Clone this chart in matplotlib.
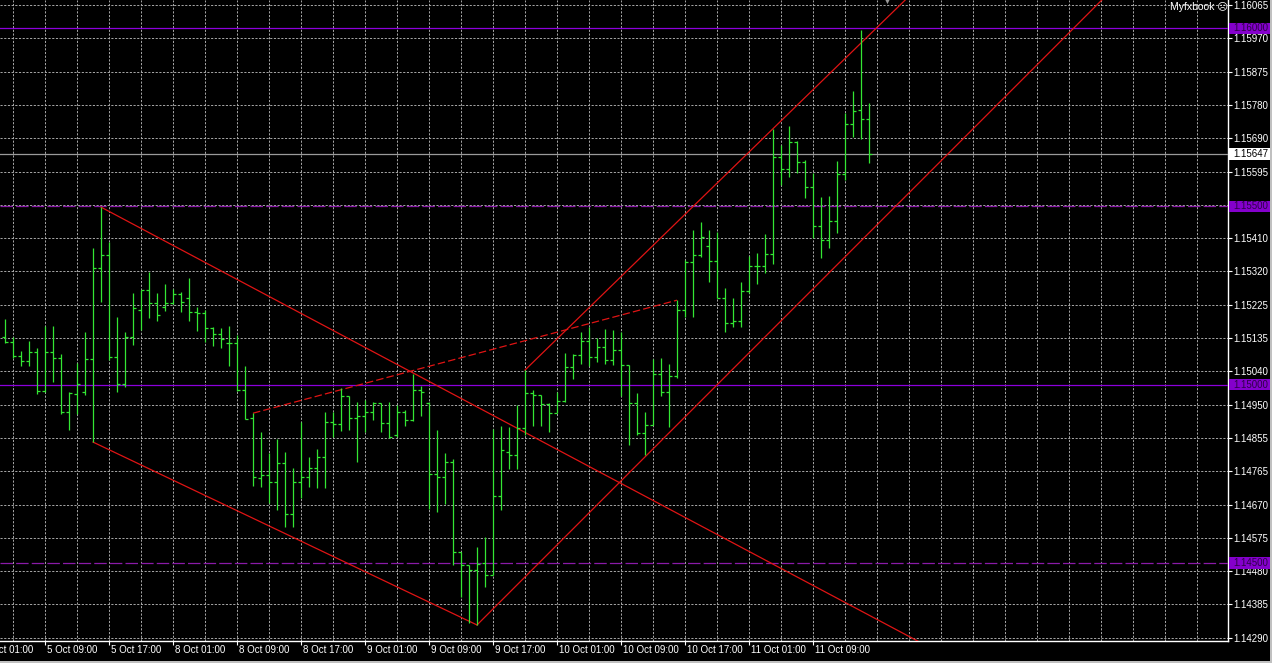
import numpy as np
import matplotlib as mpl
mpl.use('Agg')
import matplotlib.pyplot as plt
import matplotlib.transforms as mtransforms
from matplotlib.patches import Rectangle

plt.rcParams['font.family'] = ['Liberation Sans', 'DejaVu Sans']

# hourly bars, first bar = 5 Oct 04:00 (weekend skipped)
opens = [1.15134, 1.15119, 1.15080, 1.15066, 1.15091, 1.14982, 1.15091, 1.15075, 1.14923, 1.14974,
         1.14979, 1.15072, 1.15327, 1.15364, 1.15077, 1.15002, 1.15134, 1.15209, 1.15265, 1.15229,
         1.15218, 1.15229, 1.15254, 1.15243, 1.15204, 1.15201, 1.15159, 1.15142, 1.15117, 1.15117,
         1.14985, 1.14906, 1.14738, 1.14746, 1.14727, 1.14780, 1.14637, 1.14727, 1.14741, 1.14766,
         1.14797, 1.14895, 1.14889, 1.14968, 1.14906, 1.14912, 1.14923, 1.14948, 1.14892, 1.14859,
         1.14923, 1.14901, 1.14985, 1.14948, 1.14749, 1.14741, 1.14783, 1.14530, 1.14494, 1.14480,
         1.14499, 1.14466, 1.14687, 1.14811, 1.14802, 1.14878, 1.14976, 1.14971, 1.14946, 1.14920,
         1.14954, 1.15049, 1.15083, 1.15122, 1.15077, 1.15105, 1.15069, 1.15097, 1.15055, 1.14948,
         1.14864, 1.14887, 1.15030, 1.14979, 1.15024, 1.15209, 1.15344, 1.15364, 1.15389, 1.15347,
         1.15243, 1.15173, 1.15178, 1.15263, 1.15333, 1.15333, 1.15366, 1.15639, 1.15605, 1.15681,
         1.15625, 1.15554, 1.15445, 1.15406, 1.15459, 1.15591, 1.15731, 1.15770, 1.15745]
highs = [1.15184, 1.15134, 1.15094, 1.15122, 1.15103, 1.15164, 1.15164, 1.15086, 1.14979, 1.15061,
         1.15148, 1.15383, 1.15498, 1.15400, 1.15190, 1.15148, 1.15257, 1.15265, 1.15316, 1.15257,
         1.15282, 1.15268, 1.15260, 1.15299, 1.15218, 1.15209, 1.15162, 1.15159, 1.15164, 1.15139,
         1.15052, 1.14920, 1.14867, 1.14808, 1.14847, 1.14811, 1.14766, 1.14895, 1.14797, 1.14819,
         1.14923, 1.14923, 1.14990, 1.14968, 1.14951, 1.14957, 1.14951, 1.14948, 1.14951, 1.14943,
         1.14929, 1.15030, 1.14996, 1.14951, 1.14873, 1.14808, 1.14791, 1.14530, 1.14494, 1.14544,
         1.14572, 1.14875, 1.14884, 1.14881, 1.14943, 1.15041, 1.14985, 1.14971, 1.14948, 1.14979,
         1.15089, 1.15086, 1.15148, 1.15162, 1.15131, 1.15156, 1.15153, 1.15148, 1.15055, 1.14976,
         1.14923, 1.15072, 1.15075, 1.15058, 1.15237, 1.15350, 1.15434, 1.15456, 1.15434, 1.15428,
         1.15271, 1.15243, 1.15288, 1.15361, 1.15369, 1.15423, 1.15717, 1.15672, 1.15726, 1.15683,
         1.15630, 1.15594, 1.15526, 1.15529, 1.15627, 1.15762, 1.15824, 1.15995, 1.15790]
lows = [1.15117, 1.15075, 1.15052, 1.15052, 1.14974, 1.14979, 1.15007, 1.14917, 1.14873, 1.14917,
        1.14971, 1.14839, 1.15232, 1.15069, 1.14979, 1.14993, 1.15111, 1.15153, 1.15187, 1.15178,
        1.15206, 1.15226, 1.15204, 1.15178, 1.15150, 1.15119, 1.15108, 1.15103, 1.15052, 1.14982,
        1.14903, 1.14715, 1.14713, 1.14668, 1.14648, 1.14600, 1.14600, 1.14682, 1.14713, 1.14710,
        1.14710, 1.14853, 1.14870, 1.14873, 1.14783, 1.14867, 1.14901, 1.14867, 1.14850, 1.14853,
        1.14884, 1.14898, 1.14912, 1.14651, 1.14643, 1.14665, 1.14494, 1.14404, 1.14331, 1.14326,
        1.14432, 1.14466, 1.14648, 1.14763, 1.14763, 1.14859, 1.14884, 1.14884, 1.14867, 1.14920,
        1.14951, 1.15016, 1.15058, 1.15052, 1.15063, 1.15058, 1.15055, 1.14968, 1.14831, 1.14859,
        1.14802, 1.14887, 1.14968, 1.14881, 1.15019, 1.15190, 1.15190, 1.15358, 1.15288, 1.15243,
        1.15148, 1.15162, 1.15162, 1.15257, 1.15282, 1.15313, 1.15338, 1.15560, 1.15582, 1.15594,
        1.15524, 1.15411, 1.15355, 1.15383, 1.15425, 1.15574, 1.15695, 1.15689, 1.15622]
closes = [1.15119, 1.15080, 1.15066, 1.15091, 1.14982, 1.15091, 1.15075, 1.14923, 1.14976, 1.15002,
          1.15072, 1.15327, 1.15364, 1.15077, 1.15002, 1.15134, 1.15215, 1.15265, 1.15229, 1.15195,
          1.15229, 1.15254, 1.15232, 1.15204, 1.15201, 1.15159, 1.15142, 1.15128, 1.15117, 1.14985,
          1.14903, 1.14741, 1.14746, 1.14727, 1.14780, 1.14637, 1.14727, 1.14741, 1.14766, 1.14797,
          1.14895, 1.14889, 1.14968, 1.14906, 1.14912, 1.14923, 1.14948, 1.14892, 1.14853, 1.14923,
          1.14901, 1.14985, 1.14979, 1.14749, 1.14741, 1.14783, 1.14530, 1.14494, 1.14480, 1.14497,
          1.14466, 1.14687, 1.14817, 1.14802, 1.14878, 1.14976, 1.14971, 1.14946, 1.14920, 1.14954,
          1.15049, 1.15083, 1.15122, 1.15077, 1.15105, 1.15069, 1.15097, 1.15055, 1.14948, 1.14864,
          1.14887, 1.15030, 1.14979, 1.15024, 1.15209, 1.15344, 1.15364, 1.15414, 1.15347, 1.15243,
          1.15173, 1.15178, 1.15263, 1.15333, 1.15333, 1.15366, 1.15639, 1.15605, 1.15681, 1.15625,
          1.15554, 1.15445, 1.15406, 1.15459, 1.15591, 1.15731, 1.15768, 1.15745, 1.15647]

time_labels = ['5 Oct 01:00', '5 Oct 09:00', '5 Oct 17:00', '8 Oct 01:00', '8 Oct 09:00',
               '8 Oct 17:00', '9 Oct 01:00', '9 Oct 09:00', '9 Oct 17:00', '10 Oct 01:00',
               '10 Oct 09:00', '10 Oct 17:00', '11 Oct 01:00', '11 Oct 09:00']
time_label_bars = [-3, 5, 13, 21, 29, 37, 45, 53, 61, 69, 77, 85, 93, 101]

price_labels = ['1.16065', '1.15970', '1.15875', '1.15780', '1.15690', '1.15595', '1.15500',
                '1.15410', '1.15320', '1.15225', '1.15135', '1.15040', '1.14950', '1.14855',
                '1.14765', '1.14670', '1.14575', '1.14480', '1.14385', '1.14290']

levels = [1.16000, 1.15500, 1.15000, 1.14500]
level_dashed = [False, True, False, True]
bid = 1.15647

# trend lines: bar0, price0, bar1, price1, dashed
trend_lines = [
    (12, 1.15498, 115, 1.14270, False),
    (11, 1.14839, 59, 1.14326, False),
    (59, 1.14326, 140, 1.16144, False),
    (65, 1.15041, 115, 1.16133, False),
    (31, 1.14920, 84, 1.15237, True),
]

green = '#33e633'
violet = '#8c00dc'
grid_c = '#a8a8a8'

fig = plt.figure(figsize=(12.72, 6.63), dpi=100, facecolor='black')
ax = fig.add_axes([0, 22/663, 1228/1272, 641/663])
ax.set_facecolor('black')
ax.set_xlim(-0.625, 152.875)
ax.set_ylim(1.14281, 1.16079)

for s in ['left', 'top']:
    ax.spines[s].set_visible(False)
for s in ['right', 'bottom']:
    ax.spines[s].set_color('white')
    ax.spines[s].set_linewidth(1.0)

# grid
ax.set_yticks(np.linspace(1.16065, 1.14290, 20))
ax.set_yticklabels(price_labels)
ax.yaxis.tick_right()
ax.tick_params(axis='y', colors='white', labelsize=7, length=3, width=0.8, pad=1)
ax.set_xticks([b for b in time_label_bars if b >= 0])
ax.set_xticklabels([])
ax.set_xticks(np.arange(1, 153, 4), minor=True)
ax.tick_params(axis='x', which='major', colors='white', length=3, width=0.8)
ax.tick_params(axis='x', which='minor', length=0)
ax.grid(True, which='both', color=grid_c, linestyle=(0, (2.2, 1.6)), linewidth=0.7)
ax.set_axisbelow(True)

blend_x = mtransforms.blended_transform_factory(ax.transData, ax.transAxes)
for b, lab in zip(time_label_bars, time_labels):
    ax.text(b + 0.25, -0.0145, lab, transform=blend_x, color='white', fontsize=7,
            ha='left', va='center', clip_on=False)

# horizontal levels
blend_y = mtransforms.blended_transform_factory(ax.transAxes, ax.transData)
for p, d in zip(levels, level_dashed):
    if d:
        ax.axhline(p, color='#8a1aa8', lw=0.9, ls=(0, (10, 2.5)), zorder=3)
    else:
        ax.axhline(p, color=violet, lw=0.9, zorder=3)
ax.axhline(bid, color='#9a9a9a', lw=0.9, zorder=3)

# trend lines
for b0, p0, b1, p1, d in trend_lines:
    ax.plot([b0, b1], [p0, p1], color='#e01414', lw=0.9,
            ls=(0, (6, 2.5)) if d else '-', zorder=4)

# OHLC bars
idx = np.arange(len(opens))
ax.vlines(idx, lows, highs, color=green, lw=0.9, zorder=5)
ax.hlines(opens, idx - 0.4, idx, color=green, lw=0.9, zorder=5)
ax.hlines(closes, idx, idx + 0.4, color=green, lw=0.9, zorder=5)

# price boxes on the axis
h = 0.000157
for p in levels:
    ax.add_patch(Rectangle((1.0008, p - h), 0.0342, 2 * h, transform=blend_y,
                           facecolor='#8400cc', edgecolor='none', clip_on=False, zorder=6))
    ax.text(1.0041, p, '%.5f' % p, transform=blend_y, color='#2e0048', fontsize=7,
            ha='left', va='center', clip_on=False, zorder=7)
ax.add_patch(Rectangle((1.0008, bid - h), 0.0342, 2 * h, transform=blend_y,
                       facecolor='white', edgecolor='none', clip_on=False, zorder=6))
ax.text(1.0041, bid, '%.5f' % bid, transform=blend_y, color='black', fontsize=7,
        ha='left', va='center', clip_on=False, zorder=7)

fig.text(1170/1272, 1 - 7/663, 'Myfxbook \u2639', color='white', fontsize=7.5,
         ha='left', va='center')
fig.text(887/1272, 1 - 2/663, '\u25bc', color='#9a9a9a', fontsize=5,
         ha='center', va='center')

# window border
fig.patches.append(Rectangle((1270/1272, 0), 2/1272, 1, transform=fig.transFigure,
                             facecolor='#c0c0c0', edgecolor='none'))
fig.patches.append(Rectangle((0, 0), 1, 2/663, transform=fig.transFigure,
                             facecolor='#c0c0c0', edgecolor='none'))

fig.savefig('out.png', dpi=100, facecolor='black')
